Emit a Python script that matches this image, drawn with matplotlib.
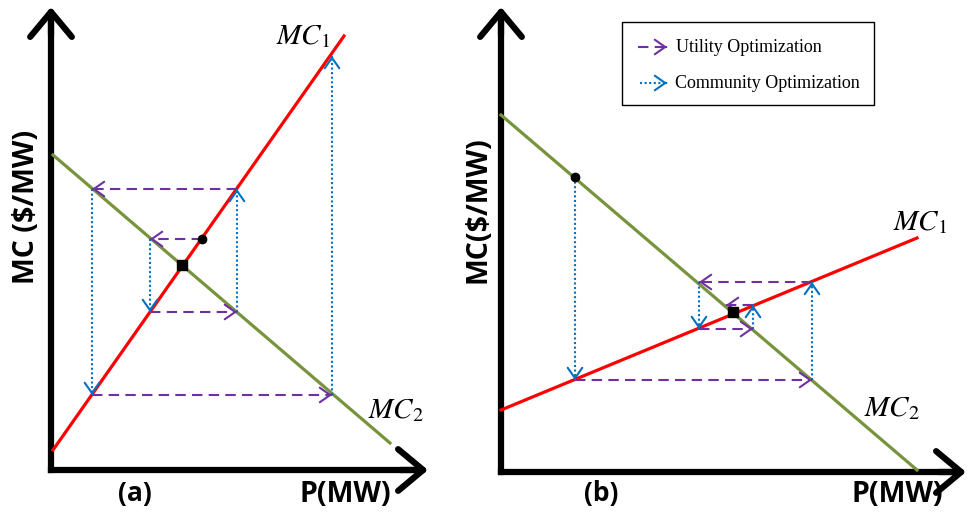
import matplotlib
matplotlib.use("Agg")
import matplotlib.pyplot as plt
from matplotlib.patches import Rectangle

plt.rcParams['mathtext.fontset'] = 'stix'

RED = '#FF0000'
GREEN = '#77933C'
PURPLE = '#7030A0'
BLUE = '#0070C0'

# Panel (a): MC curves as (P, MC) endpoints
a_mc1_p = [2, 293]
a_mc1_v = [20, 434]
a_mc2_p = [2, 339]
a_mc2_v = [315, 27]
a_eq = (131, 205)
a_start = (151, 231)
# iteration path, alternating utility / community moves
a_path_p = [151, 99, 99, 186, 186, 41, 41, 281, 281]
a_path_v = [231, 231, 158, 158, 281, 281, 75, 75, 414]

# Panel (b)
b_mc1_p = [0, 416]
b_mc1_v = [62, 234]
b_mc2_p = [0, 416]
b_mc2_v = [357, 2]
b_eq = (232, 160)
b_start = (74, 295)
b_path_p = [74, 74, 311, 311, 198, 198, 252, 252, 225]
b_path_v = [295, 92, 92, 190, 190, 143, 143, 167, 167]

W, H = 968, 513
fig = plt.figure(figsize=(W / 100, H / 100), dpi=100)

util_style = dict(color=PURPLE, lw=1.5, ls=(0, (5, 3)))
comm_style = dict(color=BLUE, lw=1.5, ls=(0, (1, 1.2)))


def head(ax, x0, y0, x1, y1, color):
    dx, dy = x1 - x0, y1 - y0
    n = (dx ** 2 + dy ** 2) ** 0.5
    ax.annotate('', xy=(x1, y1), xytext=(x1 - dx / n, y1 - dy / n),
                arrowprops=dict(arrowstyle='->,head_length=0.5,head_width=0.35',
                                color=color, lw=1.5, mutation_scale=15,
                                shrinkA=0, shrinkB=0))


def panel(origin, size, mc1, mc2, eq, start, path, first_util):
    ox, oy = origin
    w, h = size
    ax = fig.add_axes([ox / W, (H - oy) / H, w / W, h / H])
    ax.set_xlim(0, w)
    ax.set_ylim(0, h)
    ax.axis('off')
    # axes with open arrowheads
    ax.plot([0, 0], [0, h - 12], color='black', lw=4.5, clip_on=False,
            solid_capstyle='projecting')
    ax.plot([0, w - 12], [0, 0], color='black', lw=4.5, clip_on=False,
            solid_capstyle='projecting')
    for xy, xytext in [((0, h - 2), (0, h - 30)), ((w - 2, 0), (w - 30, 0))]:
        ax.annotate('', xy=xy, xytext=xytext,
                    arrowprops=dict(arrowstyle='->,head_length=0.9,head_width=0.75',
                                    color='black', lw=4.5, mutation_scale=20,
                                    shrinkA=0, shrinkB=0), annotation_clip=False)
    ax.plot(mc2[0], mc2[1], color=GREEN, lw=2.3, clip_on=False)
    ax.plot(mc1[0], mc1[1], color=RED, lw=2.3, clip_on=False)
    ps, vs = path
    util = first_util
    for i in range(len(ps) - 1):
        st = util_style if util else comm_style
        ax.plot(ps[i:i + 2], vs[i:i + 2], **st)
        head(ax, ps[i], vs[i], ps[i + 1], vs[i + 1], st['color'])
        util = not util
    ax.plot(*start, 'o', color='black', ms=6, zorder=5)
    ax.plot(*eq, 's', color='black', ms=7, zorder=5)
    return ax


panel((51, 470), (379, 465), (a_mc1_p, a_mc1_v), (a_mc2_p, a_mc2_v), a_eq,
      a_start, (a_path_p, a_path_v), True)
panel((501, 472), (467, 467), (b_mc1_p, b_mc1_v), (b_mc2_p, b_mc2_v), b_eq,
      b_start, (b_path_p, b_path_v), False)

# overlay in pixel coordinates for labels and legend
ov = fig.add_axes([0, 0, 1, 1])
ov.set_xlim(0, W)
ov.set_ylim(H, 0)
ov.axis('off')

bold = dict(fontfamily='Open Sans', fontweight='bold', ha='center', va='center')
ov.text(27, 207, 'MC ($/MW)', rotation=90, fontsize=20.5, **bold)
ov.text(478, 210, 'MC($/MW)', rotation=90, fontsize=20.5, **bold)
ov.text(135, 494, '(a)', fontsize=19, **bold)
ov.text(345, 494, 'P(MW)', fontsize=20.5, **bold)
ov.text(601, 494, '(b)', fontsize=19, **bold)
ov.text(897, 494, 'P(MW)', fontsize=20.5, **bold)

mc_font = dict(fontsize=21, ha='center', va='center')
ov.text(303, 36, r'$MC_1$', **mc_font)
ov.text(396, 410, r'$MC_2$', **mc_font)
ov.text(920, 222, r'$MC_1$', **mc_font)
ov.text(892, 408, r'$MC_2$', **mc_font)

# legend
ov.add_patch(Rectangle((622, 22), 252, 83, fill=False, ec='black', lw=1))
ov.plot([638, 667], [47, 47], **util_style)
head(ov, 660, 47, 667, 47, PURPLE)
ov.plot([640, 667], [83, 83], **comm_style)
head(ov, 660, 83, 667, 83, BLUE)
ov.text(676, 48, 'Utility Optimization', fontfamily='Liberation Serif',
        fontsize=13, va='center')
ov.text(675, 84, 'Community Optimization', fontfamily='Liberation Serif',
        fontsize=13, va='center')

fig.savefig('out.png', dpi=100)
